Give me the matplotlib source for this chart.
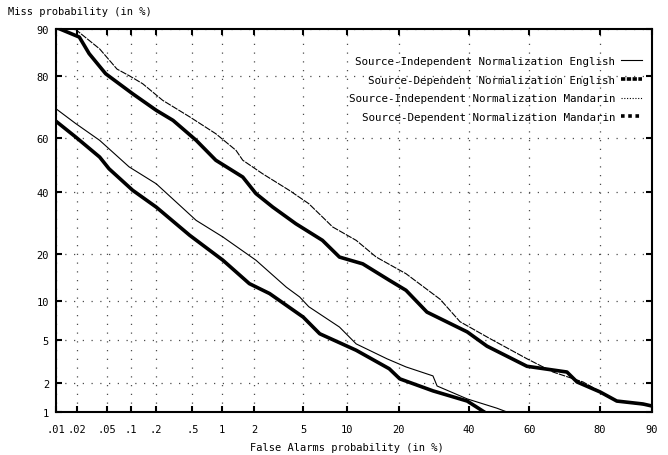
from statistics import NormalDist

import matplotlib

matplotlib.use("Agg")
import matplotlib.pyplot as plt
import numpy as np
from matplotlib.lines import Line2D

ND = NormalDist()

# --- data (percentages) ---
si_eng_fa = [0.01, 0.019, 0.040, 0.095, 0.20, 0.55, 1.02, 2.06, 3.7, 4.7, 5.5,
             9.0, 11.5, 17.3, 21.7, 28.9, 30.1, 39.4, 49.2, 52.6]
si_eng_miss = [70.2, 65.2, 59.2, 49.3, 43.0, 30.1, 24.9, 18.5, 12.5, 10.7, 9.1,
               6.35, 4.6, 3.4, 2.86, 2.35, 1.87, 1.38, 1.1, 1.0]

sd_eng_fa = [0.01, 0.019, 0.040, 0.053, 0.105, 0.20, 0.47, 1.02, 1.8, 2.7, 5.0,
             6.6, 11.5, 17.8, 20.2, 28.9, 39.4, 45.0]
sd_eng_miss = [66.0, 60.4, 53.0, 48.6, 40.6, 34.6, 25.4, 18.5, 13.2, 11.3, 7.6,
               5.6, 4.05, 2.75, 2.2, 1.67, 1.31, 1.0]

si_man_fa = [0.0186, 0.040, 0.067, 0.097, 0.139, 0.237, 0.47, 0.87, 1.36, 1.57,
             2.36, 3.9, 5.5, 7.3, 8.1, 11.5, 15.1, 21.7, 31.0, 37.1, 46.9, 59.2,
             67.4, 75.9, 83.8, 90.0]
si_man_miss = [90.0, 86.3, 81.7, 79.9, 77.8, 72.9, 67.5, 61.6, 55.5, 51.8, 46.7,
               40.6, 35.8, 30.1, 28.0, 23.9, 19.3, 15.3, 10.3, 7.0, 5.1, 3.4,
               2.56, 2.05, 1.31, 1.16]

sd_man_fa = [0.0114, 0.0213, 0.029, 0.048, 0.105, 0.20, 0.31, 0.55, 0.87, 1.57,
             2.06, 2.87, 4.4, 6.9, 9.0, 12.6, 17.8, 21.7, 27.2, 39.4, 45.9, 59.2,
             71.5, 74.3, 80.1, 83.8, 88.6, 90.0]
sd_man_miss = [90.0, 88.6, 85.3, 80.5, 74.9, 69.7, 66.3, 59.2, 51.8, 45.5, 39.4,
               34.6, 29.0, 23.9, 19.3, 17.6, 13.9, 11.9, 8.3, 5.8, 4.4, 2.9, 2.56,
               2.05, 1.63, 1.31, 1.22, 1.16]

x_ticks = [0.01, 0.02, 0.05, 0.1, 0.2, 0.5, 1, 2, 5, 10, 20, 40, 60, 80, 90]
x_labels = [".01", ".02", ".05", ".1", ".2", ".5", "1", "2", "5", "10", "20",
            "40", "60", "80", "90"]
y_ticks = [1, 2, 5, 10, 20, 40, 60, 80, 90]

labels = [
    "Source-Independent Normalization English",
    "Source-Dependent Normalization English",
    "Source-Independent Normalization Mandarin",
    "Source-Dependent Normalization Mandarin",
]


def fwd(p):
    # normal deviate (probit) scale for DET plots
    p = np.clip(np.asarray(p, dtype=float) / 100.0, 1e-10, 1 - 1e-10)
    return np.vectorize(ND.inv_cdf, otypes=[float])(p)


def inv(z):
    return np.vectorize(ND.cdf, otypes=[float])(np.asarray(z, dtype=float)) * 100.0


plt.rcParams["font.family"] = "DejaVu Sans Mono"
plt.rcParams["font.size"] = 7.5

fig = plt.figure(figsize=(6.68, 4.56), dpi=100)
ax = fig.add_axes([56 / 668, 1 - 413 / 456, 596 / 668, 383 / 456])
ax.set_xscale("function", functions=(fwd, inv))
ax.set_yscale("function", functions=(fwd, inv))
ax.set_xlim(0.01, 90)
ax.set_ylim(1, 90)

ax.plot(si_eng_fa, si_eng_miss, color="black", lw=0.8)
ax.plot(sd_eng_fa, sd_eng_miss, color="black", lw=2.6)
ax.plot(si_man_fa, si_man_miss, color="black", lw=0.8, ls=(0, (6, 1)))
ax.plot(sd_man_fa, sd_man_miss, color="black", lw=2.6)

ax.set_xticks(x_ticks)
ax.set_xticklabels(x_labels)
ax.set_yticks(y_ticks)
ax.set_yticklabels([str(v) for v in y_ticks])
ax.minorticks_off()
ax.tick_params(direction="in", length=4, width=1.5, top=True, right=True)
ax.tick_params(axis="x", pad=9)
ax.tick_params(axis="y", pad=5)
ax.grid(True, color="0.3", ls=(0, (1, 6)), lw=0.9)
for sp in ax.spines.values():
    sp.set_linewidth(1.5)

# legend samples drawn like the gnuplot key
handles = [
    Line2D([], [], color="black", lw=0.8),
    Line2D([], [], color="black", lw=2.6, ls=(0, (1.2, 0.4))),
    Line2D([], [], color="black", lw=0.8, ls=(0, (1, 1.5))),
    Line2D([], [], color="black", lw=2.6, ls=(0, (1, 1))),
]
ax.legend(handles, labels, loc="upper right", frameon=False,
          markerfirst=False, handlelength=2.0, handletextpad=0.5,
          labelspacing=0.8, fontsize=7.8, bbox_to_anchor=(1.0, 0.955))

fig.text(8 / 668, 1 - 12 / 456, "Miss probability (in %)", ha="left",
         va="center", fontsize=7.5)
fig.text(347 / 668, 1 - 448 / 456, "False Alarms probability (in %)",
         ha="center", va="center", fontsize=7.5)

fig.savefig("out.png", dpi=100)
